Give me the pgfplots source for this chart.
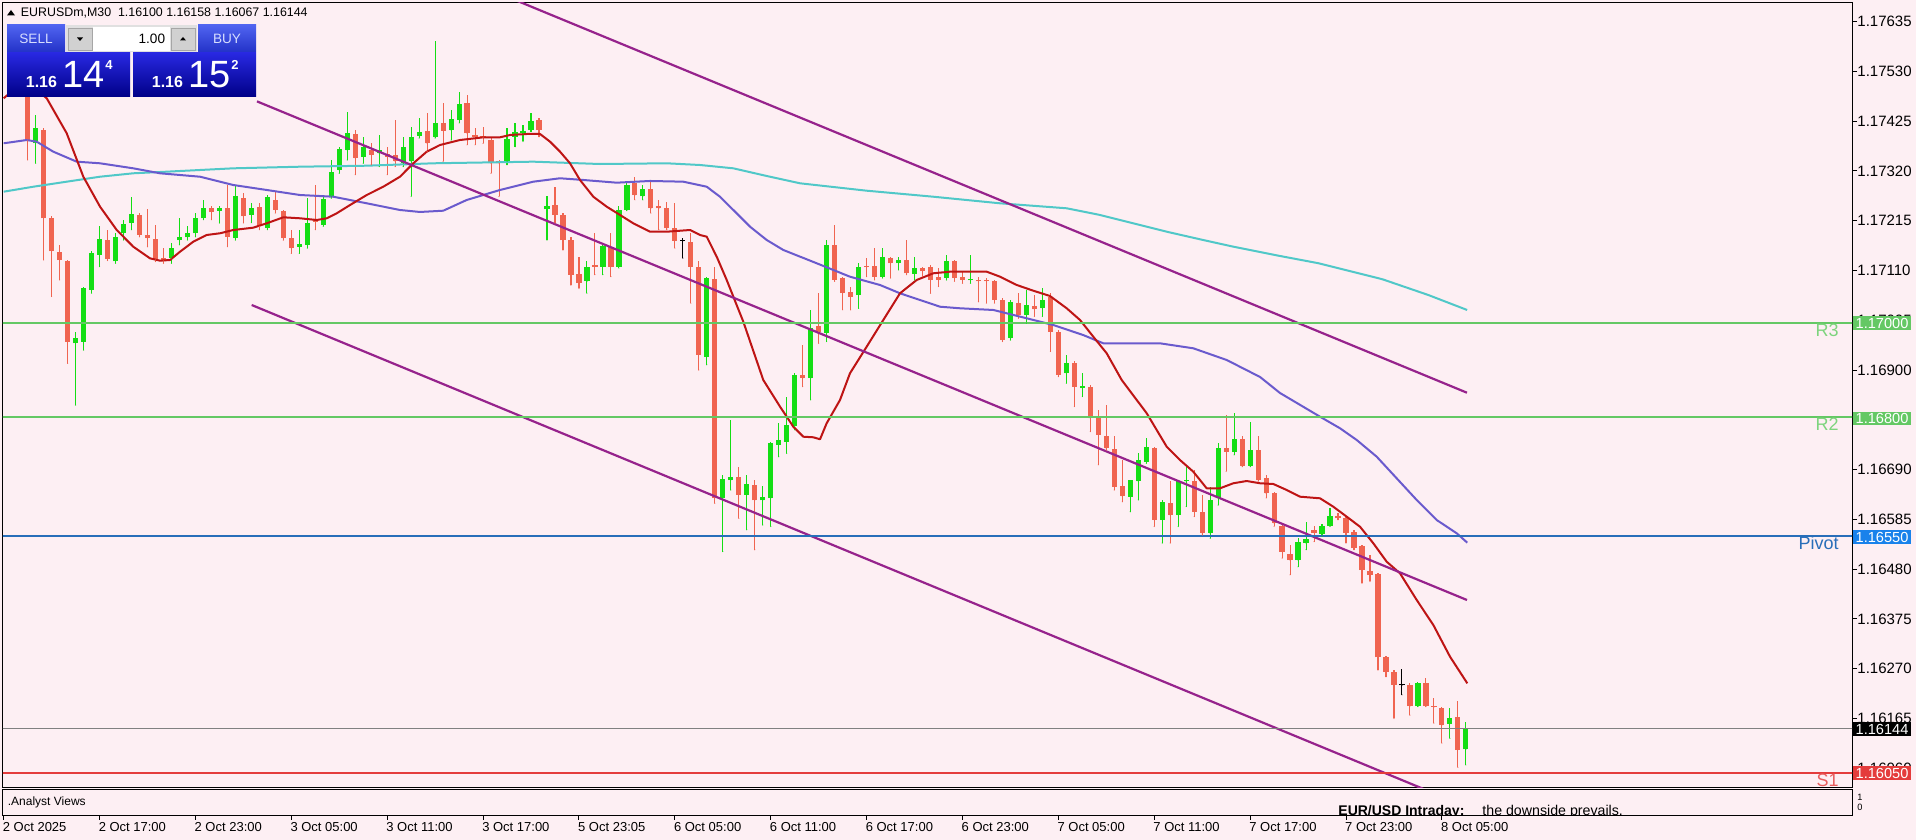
\documentclass[border=0pt]{standalone}
\usepackage{pgfplots}
\pgfplotsset{compat=1.18}
\usepackage{pgfplotstable}
\usepackage{fontspec}
\setmainfont{Liberation Sans}

\definecolor{bg}{RGB}{253,239,243}
\definecolor{bull}{RGB}{20,222,20}
\definecolor{bear}{RGB}{240,100,80}
\definecolor{maRed}{RGB}{190,20,20}
\definecolor{maBlue}{RGB}{106,90,205}
\definecolor{maCyan}{RGB}{80,200,200}
\definecolor{chan}{RGB}{150,35,140}
\definecolor{lvlG}{RGB}{100,200,100}
\definecolor{lvlGtxt}{RGB}{125,212,125}
\definecolor{lvlB}{RGB}{40,110,185}
\definecolor{lvlBbox}{RGB}{25,130,235}
\definecolor{lvlR}{RGB}{228,60,60}
\definecolor{lvlRtxt}{RGB}{232,95,95}
\definecolor{btnT}{RGB}{80,100,240}
\definecolor{btnB}{RGB}{35,50,200}
\definecolor{bigT}{RGB}{40,40,225}
\definecolor{bigB}{RGB}{0,0,135}
\definecolor{btntxt}{RGB}{215,222,255}

\pgfplotstableread{
i O H L C
4 1.17378 1.17438 1.17336 1.17410
9 1.16956 1.16981 1.16826 1.16967
10 1.16960 1.17076 1.16942 1.17072
11 1.17069 1.17150 1.17062 1.17146
12 1.17143 1.17203 1.17118 1.17176
14 1.17129 1.17188 1.17125 1.17180
15 1.17188 1.17217 1.17174 1.17208
16 1.17210 1.17264 1.17196 1.17229
21 1.17136 1.17167 1.17125 1.17157
22 1.17174 1.17220 1.17164 1.17180
23 1.17180 1.17203 1.17174 1.17188
24 1.17188 1.17231 1.17181 1.17220
25 1.17220 1.17259 1.17217 1.17241
27 1.17236 1.17245 1.17210 1.17241
29 1.17178 1.17290 1.17174 1.17266
31 1.17227 1.17252 1.17211 1.17241
33 1.17199 1.17269 1.17196 1.17264
37 1.17160 1.17196 1.17146 1.17166
38 1.17164 1.17262 1.17157 1.17211
40 1.17206 1.17266 1.17203 1.17260
41 1.17266 1.17343 1.17262 1.17318
42 1.17322 1.17371 1.17315 1.17366
43 1.17364 1.17445 1.17343 1.17399
45 1.17350 1.17392 1.17336 1.17370
47 1.17357 1.17396 1.17329 1.17364
50 1.17336 1.17392 1.17329 1.17371
51 1.17340 1.17413 1.17266 1.17392
52 1.17394 1.17431 1.17389 1.17403
54 1.17391 1.17593 1.17389 1.17422
56 1.17406 1.17449 1.17385 1.17430
57 1.17428 1.17487 1.17421 1.17461
63 1.17340 1.17410 1.17333 1.17387
64 1.17392 1.17421 1.17371 1.17401
65 1.17399 1.17417 1.17382 1.17405
66 1.17406 1.17443 1.17403 1.17426
68 1.17239 1.17266 1.17174 1.17245
73 1.17087 1.17129 1.17062 1.17118
75 1.17118 1.17167 1.17101 1.17162
77 1.17118 1.17245 1.17115 1.17238
78 1.17238 1.17297 1.17236 1.17290
80 1.17266 1.17290 1.17259 1.17281
88 1.16928 1.17097 1.16911 1.17094
90 1.16630 1.16679 1.16517 1.16670
91 1.16668 1.16795 1.16647 1.16675
93 1.16637 1.16679 1.16563 1.16659
95 1.16625 1.16656 1.16573 1.16633
96 1.16630 1.16749 1.16570 1.16746
97 1.16742 1.16788 1.16717 1.16753
98 1.16749 1.16844 1.16724 1.16784
99 1.16781 1.16893 1.16774 1.16890
101 1.16883 1.17027 1.16837 1.16988
103 1.16978 1.17174 1.16960 1.17164
107 1.17058 1.17125 1.17030 1.17118
110 1.17097 1.17157 1.17094 1.17139
112 1.17125 1.17139 1.17111 1.17132
114 1.17103 1.17139 1.17090 1.17115
118 1.17094 1.17143 1.17090 1.17129
121 1.17089 1.17143 1.17083 1.17092
126 1.16967 1.17048 1.16963 1.17044
128 1.17016 1.17069 1.16999 1.17037
130 1.17030 1.17072 1.17013 1.17048
133 1.16893 1.16932 1.16872 1.16914
135 1.16862 1.16893 1.16844 1.16866
141 1.16633 1.16668 1.16601 1.16667
142 1.16665 1.16724 1.16626 1.16710
143 1.16707 1.16756 1.16703 1.16738
145 1.16584 1.16626 1.16535 1.16622
147 1.16594 1.16668 1.16570 1.16665
148 1.16665 1.16700 1.16612 1.16668
151 1.16556 1.16654 1.16545 1.16626
152 1.16630 1.16746 1.16615 1.16735
154 1.16728 1.16809 1.16721 1.16754
156 1.16698 1.16791 1.16696 1.16731
162 1.16499 1.16545 1.16485 1.16538
163 1.16535 1.16580 1.16521 1.16543
165 1.16554 1.16575 1.16549 1.16571
166 1.16571 1.16608 1.16570 1.16592
177 1.16191 1.16243 1.16190 1.16239
181 1.16154 1.16187 1.16123 1.16165
183 1.16100 1.16158 1.16067 1.16144
}\bulltbl

\pgfplotstableread{
i O H L C
3 1.17484 1.17491 1.17343 1.17385
5 1.17406 1.17410 1.17132 1.17220
6 1.17220 1.17224 1.17055 1.17150
7 1.17148 1.17164 1.17090 1.17132
8 1.17129 1.17132 1.16914 1.16960
13 1.17174 1.17196 1.17131 1.17134
17 1.17227 1.17231 1.17181 1.17185
18 1.17184 1.17239 1.17160 1.17178
19 1.17176 1.17206 1.17129 1.17132
20 1.17136 1.17157 1.17125 1.17130
26 1.17241 1.17245 1.17217 1.17234
28 1.17241 1.17290 1.17160 1.17181
30 1.17262 1.17273 1.17210 1.17224
32 1.17243 1.17252 1.17196 1.17203
34 1.17259 1.17276 1.17231 1.17238
35 1.17236 1.17238 1.17174 1.17178
36 1.17178 1.17196 1.17146 1.17157
39 1.17217 1.17290 1.17196 1.17213
44 1.17397 1.17406 1.17312 1.17347
46 1.17364 1.17378 1.17333 1.17354
48 1.17356 1.17371 1.17312 1.17350
49 1.17354 1.17428 1.17329 1.17340
53 1.17404 1.17442 1.17361 1.17378
55 1.17422 1.17463 1.17340 1.17405
58 1.17463 1.17480 1.17375 1.17399
59 1.17396 1.17410 1.17375 1.17392
60 1.17394 1.17412 1.17378 1.17390
61 1.17385 1.17389 1.17315 1.17336
62 1.17340 1.17343 1.17266 1.17336
67 1.17428 1.17431 1.17392 1.17406
69 1.17248 1.17287 1.17210 1.17227
70 1.17227 1.17231 1.17153 1.17174
71 1.17174 1.17181 1.17079 1.17101
72 1.17103 1.17139 1.17072 1.17083
74 1.17122 1.17188 1.17101 1.17118
76 1.17160 1.17188 1.17097 1.17118
79 1.17294 1.17308 1.17259 1.17269
81 1.17281 1.17297 1.17231 1.17241
82 1.17245 1.17259 1.17196 1.17241
83 1.17241 1.17255 1.17196 1.17199
84 1.17199 1.17252 1.17157 1.17173
86 1.17171 1.17188 1.17041 1.17118
87 1.17118 1.17129 1.16900 1.16932
89 1.17091 1.17118 1.16619 1.16630
92 1.16675 1.16696 1.16587 1.16637
94 1.16658 1.16668 1.16521 1.16625
100 1.16890 1.16953 1.16865 1.16883
102 1.16992 1.17062 1.16956 1.16981
104 1.17164 1.17206 1.17087 1.17090
105 1.17094 1.17097 1.17027 1.17062
106 1.17065 1.17076 1.17027 1.17055
108 1.17120 1.17136 1.17097 1.17117
109 1.17120 1.17157 1.17090 1.17097
111 1.17136 1.17139 1.17094 1.17125
113 1.17132 1.17174 1.17101 1.17104
115 1.17115 1.17118 1.17097 1.17108
116 1.17118 1.17122 1.17062 1.17090
117 1.17097 1.17115 1.17076 1.17090
119 1.17129 1.17132 1.17087 1.17094
120 1.17097 1.17108 1.17083 1.17090
122 1.17090 1.17097 1.17044 1.17087
123 1.17090 1.17094 1.17041 1.17087
124 1.17087 1.17090 1.17041 1.17048
125 1.17048 1.17051 1.16960 1.16963
127 1.17041 1.17062 1.17009 1.17016
129 1.17035 1.17058 1.17013 1.17028
131 1.17055 1.17062 1.16939 1.16981
132 1.16981 1.16985 1.16886 1.16890
134 1.16914 1.16918 1.16823 1.16865
136 1.16865 1.16869 1.16770 1.16798
137 1.16800 1.16816 1.16700 1.16763
138 1.16761 1.16826 1.16731 1.16735
139 1.16734 1.16760 1.16647 1.16654
140 1.16656 1.16710 1.16622 1.16634
144 1.16735 1.16738 1.16570 1.16584
146 1.16619 1.16665 1.16535 1.16594
149 1.16665 1.16689 1.16591 1.16601
150 1.16601 1.16637 1.16552 1.16556
153 1.16735 1.16805 1.16686 1.16728
155 1.16754 1.16760 1.16696 1.16698
157 1.16731 1.16760 1.16665 1.16668
158 1.16672 1.16679 1.16630 1.16640
159 1.16641 1.16643 1.16570 1.16577
160 1.16570 1.16577 1.16503 1.16517
161 1.16513 1.16531 1.16468 1.16499
164 1.16563 1.16570 1.16538 1.16557
167 1.16592 1.16599 1.16584 1.16587
168 1.16587 1.16591 1.16535 1.16557
169 1.16559 1.16563 1.16521 1.16524
170 1.16528 1.16530 1.16450 1.16478
171 1.16477 1.16510 1.16454 1.16468
172 1.16470 1.16471 1.16267 1.16294
173 1.16294 1.16296 1.16253 1.16264
174 1.16264 1.16267 1.16165 1.16236
176 1.16236 1.16239 1.16172 1.16191
178 1.16239 1.16250 1.16190 1.16191
179 1.16191 1.16208 1.16155 1.16189
180 1.16187 1.16190 1.16113 1.16151
182 1.16169 1.16201 1.16062 1.16099
}\beartbl

\pgfplotstableread{
i O H L C
85 1.17174 1.17178 1.17136 1.17172
175 1.16237 1.16269 1.16215 1.16235
}\dojitbl

\pgfplotsset{
  candlebar/.style 2 args={only marks, mark=*, mark size=0.01pt,
    mark options={draw=none, fill=none}, forget plot, color=#1,
    error bars/.cd, y dir=plus, y explicit, error mark=none,
    error bar style={line width=#2, color=#1, line cap=butt}},
}

\begin{document}
\begin{tikzpicture}
\fill[bg] (0,0) rectangle (958pt,420pt);
\path[use as bounding box] (0,0) rectangle (958pt,420pt);

% ---------------- main price panel ----------------
\begin{axis}[
  at={(1.5pt,26pt)}, anchor=south west,
  scale only axis, width=924.5pt, height=392.5pt,
  xmin=-0.084, xmax=231.33,
  ymin=1.160184, ymax=1.176741,
  axis line style={black, line width=0.5pt},
  xtick=\empty,
  ytick={1.1606,1.16165,1.1627,1.16375,1.1648,1.16585,1.1669,1.16795,1.169,1.17005,1.1711,1.17215,1.1732,1.17425,1.1753,1.17635},
  yticklabels={1.16060,1.16165,1.16270,1.16375,1.16480,1.16585,1.16690,1.16795,1.16900,1.17005,1.17110,1.17215,1.17320,1.17425,1.17530,1.17635},
  ytick pos=right, yticklabel pos=right,
  tick align=outside, major tick length=2.5pt,
  tick style={black, line width=0.5pt},
  yticklabel style={font=\fontsize{7.5}{9}\selectfont, text=black, anchor=west, inner sep=0pt},
  clip=true,
]
% wicks
\addplot[candlebar={bull}{0.55pt}] table[x=i, y=L, y error expr=\thisrow{H}-\thisrow{L}] {\bulltbl};
\addplot[candlebar={bear}{0.55pt}] table[x=i, y=L, y error expr=\thisrow{H}-\thisrow{L}] {\beartbl};
\addplot[candlebar={black}{0.55pt}] table[x=i, y=L, y error expr=\thisrow{H}-\thisrow{L}] {\dojitbl};
% bodies
\addplot[candlebar={bull}{2.6pt}] table[x=i, y=O, y error expr=\thisrow{C}-\thisrow{O}] {\bulltbl};
\addplot[candlebar={bear}{2.6pt}] table[x=i, y=C, y error expr=\thisrow{O}-\thisrow{C}] {\beartbl};
\addplot[candlebar={black}{2.6pt}] table[x=i, y=C, y error expr=\thisrow{O}-\thisrow{C}] {\dojitbl};

% moving averages
\addplot[maCyan, line width=1pt, line join=round] coordinates {
(0,1.172761) (3.71,1.172866) (7.89,1.172972) (12.06,1.173077) (16.22,1.173149) (20.4,1.173183) (28.74,1.173254) (37.09,1.173288) (45.44,1.173309) (53.78,1.173360) (66.29,1.173394) (74.63,1.173345) (82.98,1.173360) (87.15,1.173324) (91.32,1.173254) (95.5,1.173092) (99.67,1.172938) (108.01,1.172782) (116.35,1.172655) (124.7,1.172516) (133.04,1.172411) (137.21,1.172270) (141.38,1.172094) (145.56,1.171917) (149.73,1.171757) (153.9,1.171601) (159.74,1.171405) (164.58,1.171251) (172.58,1.170913) (178.3,1.170582) (183.16,1.170266)};
\addplot[maBlue, line width=1pt, line join=round] coordinates {
(0,1.173782) (2.88,1.173851) (4.13,1.173816) (6.21,1.173605) (9.14,1.173394) (12.06,1.173360) (16.22,1.173254) (19.57,1.173149) (24.57,1.173077) (28.74,1.172902) (32.92,1.172797) (37.09,1.172691) (41.26,1.172655) (45.44,1.172516) (49.6,1.172375) (52.1,1.172333) (55.02,1.172360) (57.95,1.172586) (62.12,1.172797) (66.29,1.172972) (69.63,1.173044) (72.54,1.173008) (76.72,1.172951) (80.89,1.172987) (85.06,1.172972) (87.99,1.172866) (89.65,1.172655) (91.32,1.172375) (93.41,1.172023) (95.5,1.171742) (97.58,1.171531) (101.76,1.171251) (105.92,1.170968) (109.68,1.170793) (112.18,1.170618) (117.19,1.170335) (119.69,1.170302) (123.86,1.170266) (128.04,1.170091) (131.37,1.169949) (135.1,1.169738) (137.63,1.169563) (141.38,1.169563) (144.72,1.169563) (148.89,1.169458) (153.07,1.169211) (157.24,1.168853) (159.74,1.168515) (164.75,1.168015) (167.25,1.167771) (169.34,1.167524) (171.84,1.167172) (174.34,1.166716) (176.85,1.166258) (179.35,1.165836) (181.86,1.165556) (183.18,1.165358)};
\addplot[maRed, line width=1pt, line join=round] coordinates {
(0,1.174731) (2.67,1.175117) (5.39,1.174731) (7.89,1.173993) (9.97,1.173077) (12.06,1.172445) (14.15,1.171953) (16.22,1.171601) (18.31,1.171356) (19.56,1.171306) (20.82,1.171320) (22.07,1.171495) (23.73,1.171706) (25.41,1.171848) (27.08,1.171884) (28.74,1.171953) (31.24,1.172002) (32.92,1.172094) (35.0,1.172221) (37.09,1.172200) (39.18,1.172164) (40.43,1.172200) (41.68,1.172305) (43.35,1.172480) (45.44,1.172691) (47.51,1.172866) (49.6,1.173077) (51.27,1.173360) (52.95,1.173605) (54.61,1.173746) (57.11,1.173851) (60.03,1.173908) (62.12,1.173908) (63.37,1.173957) (65.46,1.173978) (67.13,1.173978) (68.38,1.173816) (69.63,1.173605) (70.88,1.173360) (72.13,1.173008) (73.8,1.172655) (75.47,1.172445) (77.14,1.172270) (78.8,1.172094) (80.89,1.171917) (82.98,1.171917) (85.9,1.171953) (87.15,1.171848) (87.99,1.171812) (89.24,1.171390) (90.49,1.170899) (92.57,1.170019) (95.07,1.168789) (97.17,1.168226) (98.83,1.167804) (100.08,1.167593) (101.33,1.167581) (102.17,1.167539) (103.0,1.167876) (104.67,1.168367) (105.92,1.168931) (108.01,1.169492) (110.09,1.170055) (112.18,1.170618) (114.27,1.170899) (116.35,1.171040) (118.44,1.171074) (120.53,1.171074) (123.03,1.171074) (124.70,1.170968) (126.79,1.170793) (128.86,1.170673) (130.95,1.170561) (133.04,1.170302) (134.71,1.170055) (136.37,1.169703) (138.05,1.169352) (139.93,1.168789) (143.06,1.168087) (145.56,1.167382) (147.22,1.167102) (148.89,1.166855) (150.56,1.166505) (152.23,1.166505) (153.89,1.166611) (155.57,1.166659) (157.24,1.166611) (158.9,1.166596) (160.58,1.166469) (162.25,1.166328) (164.75,1.166294) (166.41,1.166117) (168.09,1.165906) (169.75,1.165695) (171.42,1.165345) (173.09,1.164957) (174.76,1.164712) (176.85,1.164149) (178.93,1.163622) (181.02,1.162953) (183.18,1.162392)};

% price channel
\addplot[chan, line width=1.1pt] coordinates {(60,1.177083) (183.14,1.168521)};
\addplot[chan, line width=1.1pt] coordinates {(31.7,1.174666) (183.14,1.164149)};
\addplot[chan, line width=1.1pt] coordinates {(31.04,1.170371) (183.14,1.159785)};

% pivot levels
\addplot[lvlG, line width=1pt] coordinates {(-1,1.17) (232,1.17)};
\addplot[lvlG, line width=1pt] coordinates {(-1,1.168) (232,1.168)};
\addplot[lvlB, line width=1pt] coordinates {(-1,1.1655) (232,1.1655)};
\addplot[lvlR, line width=1pt] coordinates {(-1,1.1605) (232,1.1605)};
\addplot[black!50, line width=0.45pt] coordinates {(-1,1.16144) (232,1.16144)};
\end{axis}

% ---------------- indicator panel ----------------
\begin{axis}[
  at={(1.5pt,12pt)}, anchor=south west,
  scale only axis, width=924.5pt, height=13pt,
  xmin=-0.084, xmax=231.33, ymin=0, ymax=1,
  axis line style={black, line width=0.5pt},
  ytick=\empty,
  xtick={0,12,24,36,48,60,72,84,96,108,120,132,144,156,168,180},
  xticklabels={2 Oct 2025,2 Oct 17:00,2 Oct 23:00,3 Oct 05:00,3 Oct 11:00,3 Oct 17:00,5 Oct 23:05,6 Oct 05:00,6 Oct 11:00,6 Oct 17:00,6 Oct 23:00,7 Oct 05:00,7 Oct 11:00,7 Oct 17:00,7 Oct 23:00,8 Oct 05:00},
  xtick pos=bottom, tick align=outside, major tick length=2pt,
  tick style={black, line width=0.5pt},
  xticklabel style={font=\fontsize{6.5}{8}\selectfont, text=black, anchor=north west, inner sep=0pt, xshift=-0.6pt, yshift=-1.2pt},
]
\end{axis}

% ---------------- overlays in pixel units ----------------
\begin{scope}[shift={(0pt,420pt)}, x=0.5pt, y=-0.5pt]
  % level labels inside plot
  \node[anchor=north east, inner sep=0pt, text=lvlGtxt, font=\fontsize{9}{10}\selectfont] at (1839,323.5) {R3};
  \node[anchor=north east, inner sep=0pt, text=lvlGtxt, font=\fontsize{9}{10}\selectfont] at (1839,417.5) {R2};
  \node[anchor=north east, inner sep=0pt, text=lvlB, font=\fontsize{9}{10}\selectfont] at (1839,536.5) {Pivot};
  \node[anchor=north east, inner sep=0pt, text=lvlRtxt, font=\fontsize{9}{10}\selectfont] at (1839,773.5) {S1};
  % price boxes on the axis
  \fill[lvlG] (1853,316) rectangle (1911,330);
  \node[text=white, font=\fontsize{7.3}{8}\selectfont, inner sep=0pt] at (1882,323.3) {1.17000};
  \fill[lvlG] (1853,412) rectangle (1911,425.5);
  \node[text=white, font=\fontsize{7.3}{8}\selectfont, inner sep=0pt] at (1882,418.8) {1.16800};
  \fill[lvlBbox] (1853,530) rectangle (1911,544);
  \node[text=white, font=\fontsize{7.3}{8}\selectfont, inner sep=0pt] at (1882,537) {1.16550};
  \fill[black] (1853,722.5) rectangle (1911,736.5);
  \node[text=white, font=\fontsize{7.3}{8}\selectfont, inner sep=0pt] at (1882,729.5) {1.16144};
  \fill[lvlR] (1853,766.5) rectangle (1911,780.5);
  \node[text=white, font=\fontsize{7.3}{8}\selectfont, inner sep=0pt] at (1882,773.5) {1.16050};

  % header line
  \fill[black] (7,15.5) -- (15,15.5) -- (11,10) -- cycle;
  \node[anchor=west, inner sep=0pt, font=\fontsize{6.2}{7}\selectfont] at (20.5,12.7) {EURUSDm,M30\ \ 1.16100 1.16158 1.16067 1.16144};

  % one-click trading panel
  \shade[top color=btnT, bottom color=btnB] (7,25) rectangle (65,52);
  \node[text=btntxt, font=\fontsize{6.8}{8}\selectfont] at (36,38.5) {SELL};
  \fill[black!12] (66,25) rectangle (197,52);
  \draw[black!35, fill=black!18, line width=0.4pt] (68,28) rectangle (92,50);
  \fill[white] (93,27) rectangle (170,51);
  \draw[black!35, fill=black!18, line width=0.4pt] (171,28) rectangle (195,50);
  \fill[black] (77,37.5) -- (83,37.5) -- (80,41) -- cycle;
  \fill[black] (180,40.5) -- (186,40.5) -- (183,37) -- cycle;
  \node[anchor=east, inner sep=0pt, font=\fontsize{6.8}{8}\selectfont] at (165.5,38.5) {1.00};
  \shade[top color=btnT, bottom color=btnB] (198,25) rectangle (256,52);
  \node[text=btntxt, font=\fontsize{6.8}{8}\selectfont] at (227,38.5) {BUY};
  \shade[top color=bigT, bottom color=bigB] (7,53) rectangle (130,97);
  \shade[top color=bigT, bottom color=bigB] (133,53) rectangle (256,97);
  \node[anchor=base west, inner sep=0pt, text=white, font=\fontsize{8}{9}\selectfont\bfseries] at (25.5,88) {1.16};
  \node[anchor=base west, inner sep=0pt, text=white, font=\fontsize{19}{21}\selectfont] at (62,88) {14};
  \node[anchor=base west, inner sep=0pt, text=white, font=\fontsize{6.5}{7}\selectfont\bfseries] at (105,70) {4};
  \node[anchor=base west, inner sep=0pt, text=white, font=\fontsize{8}{9}\selectfont\bfseries] at (151.5,88) {1.16};
  \node[anchor=base west, inner sep=0pt, text=white, font=\fontsize{19}{21}\selectfont] at (188,88) {15};
  \node[anchor=base west, inner sep=0pt, text=white, font=\fontsize{6.5}{7}\selectfont\bfseries] at (231,70) {2};

  % indicator panel texts
  \node[anchor=west, inner sep=0pt, font=\fontsize{6}{7}\selectfont] at (7.5,802) {.Analyst Views};
  \begin{scope}
    \clip (3,790.5) rectangle (1852,815.5);
    \node[anchor=base west, inner sep=0pt, font=\fontsize{7}{8}\selectfont\bfseries] at (1338,816) {EUR/USD Intraday:};
    \node[anchor=base west, inner sep=0pt, font=\fontsize{7.1}{8}\selectfont] at (1482,816) {the downside prevails.};
  \end{scope}
  \node[anchor=west, inner sep=0pt, font=\fontsize{4.6}{5}\selectfont] at (1857,797) {1};
  \node[anchor=west, inner sep=0pt, font=\fontsize{4.6}{5}\selectfont] at (1857,807) {0};
\end{scope}
\end{tikzpicture}
\end{document}
